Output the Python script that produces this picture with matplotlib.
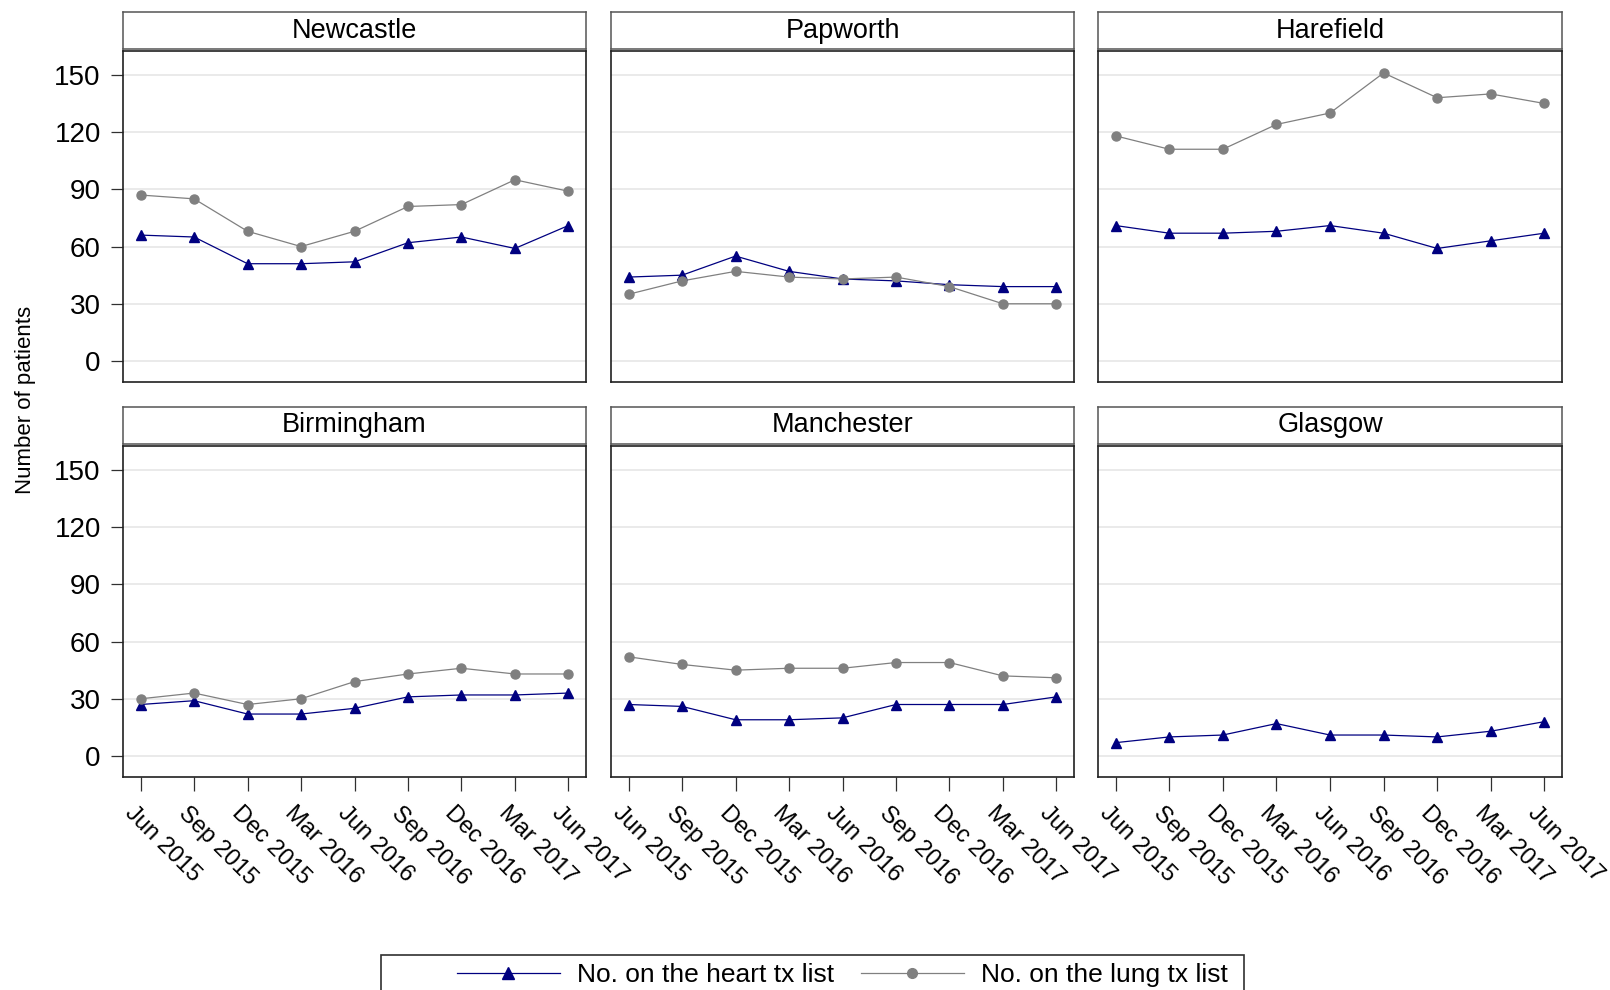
import matplotlib
matplotlib.use("Agg")
import matplotlib.pyplot as plt
from matplotlib.patches import Rectangle
from matplotlib.lines import Line2D
from matplotlib.transforms import ScaledTranslation

plt.rcParams['font.family'] = ['Liberation Sans', 'DejaVu Sans']

# Data
months = ['Jun 2015', 'Sep 2015', 'Dec 2015', 'Mar 2016', 'Jun 2016',
          'Sep 2016', 'Dec 2016', 'Mar 2017', 'Jun 2017']
centres = ['Newcastle', 'Papworth', 'Harefield', 'Birmingham', 'Manchester', 'Glasgow']

heart_newcastle = [66, 65, 51, 51, 52, 62, 65, 59, 71]
heart_papworth = [44, 45, 55, 47, 43, 42, 40, 39, 39]
heart_harefield = [71, 67, 67, 68, 71, 67, 59, 63, 67]
heart_birmingham = [27, 29, 22, 22, 25, 31, 32, 32, 33]
heart_manchester = [27, 26, 19, 19, 20, 27, 27, 27, 31]
heart_glasgow = [7, 10, 11, 17, 11, 11, 10, 13, 18]

lung_newcastle = [87, 85, 68, 60, 68, 81, 82, 95, 89]
lung_papworth = [35, 42, 47, 44, 43, 44, 39, 30, 30]
lung_harefield = [118, 111, 111, 124, 130, 151, 138, 140, 135]
lung_birmingham = [30, 33, 27, 30, 39, 43, 46, 43, 43]
lung_manchester = [52, 48, 45, 46, 46, 49, 49, 42, 41]
lung_glasgow = None  # no lung programme

heart = [heart_newcastle, heart_papworth, heart_harefield,
         heart_birmingham, heart_manchester, heart_glasgow]
lung = [lung_newcastle, lung_papworth, lung_harefield,
        lung_birmingham, lung_manchester, lung_glasgow]

yticks = [0, 30, 60, 90, 120, 150]

HEART_COL = '#000080'
LUNG_COL = '#808080'
FS = 19.5

W, H = 1610, 990
fig = plt.figure(figsize=(W / 100, H / 100), dpi=100)

# panel positions in pixels (left, right) and (top, bottom)
cols_px = [(123, 586), (611, 1074), (1098, 1562)]
rows_px = [(51, 382), (446, 777)]
strip_px = [(12, 49), (407, 444)]

x = list(range(len(months)))
shift = ScaledTranslation(-0.05, 0, fig.dpi_scale_trans)

for i, name in enumerate(centres):
    r, c = divmod(i, 3)
    x0, x1 = cols_px[c]
    y0, y1 = rows_px[r]
    ax = fig.add_axes([x0 / W, 1 - y1 / H, (x1 - x0) / W, (y1 - y0) / H])

    # strip label box
    s0, s1 = strip_px[r]
    sax = fig.add_axes([x0 / W, 1 - s1 / H, (x1 - x0) / W, (s1 - s0) / H])
    sax.set_xticks([])
    sax.set_yticks([])
    for sp in sax.spines.values():
        sp.set_color('#555555')
        sp.set_linewidth(1.1)
    sax.text(0.5, 0.5, name, ha='center', va='center', fontsize=FS,
             transform=sax.transAxes)

    ax.plot(x, heart[i], color=HEART_COL, lw=0.9, marker='^', ms=7.5,
            mfc=HEART_COL, mec=HEART_COL, zorder=3)
    if lung[i] is not None:
        ax.plot(x, lung[i], color=LUNG_COL, lw=0.9, marker='o', ms=6.5,
                mfc=LUNG_COL, mec=LUNG_COL, zorder=4)

    ax.set_xlim(-0.33, 8.33)
    ax.set_ylim(-11, 162.5)
    ax.set_yticks(yticks)
    ax.grid(axis='y', color='#e6e6e6', lw=1.2)
    ax.set_axisbelow(True)
    for sp in ax.spines.values():
        sp.set_color('#202020')
        sp.set_linewidth(1.2)

    ax.tick_params(axis='y', length=9, width=0.9, pad=7, labelsize=20,
                   color='#303030')
    ax.tick_params(axis='x', length=10, width=0.9, pad=8, labelsize=17,
                   color='#303030')
    ax.set_xticks(x)
    if c != 0:
        ax.tick_params(axis='y', left=False, labelleft=False)
    if r == 0:
        ax.tick_params(axis='x', bottom=False, labelbottom=False)
    else:
        ax.set_xticklabels(months, rotation=-45, ha='left', va='top',
                           rotation_mode='anchor')
        for lab in ax.get_xticklabels():
            lab.set_transform(lab.get_transform() + shift)

fig.text(26 / W, 1 - 400 / H, 'Number of patients', rotation=90,
         ha='center', va='center', fontsize=16)

# legend frame runs off the bottom edge as in the reference
fig.patches.append(Rectangle((381 / W, 1 - 1010 / H), (1244 - 381) / W, 55 / H,
                             transform=fig.transFigure, fill=False,
                             edgecolor='#303030', lw=1.2))
handles = [
    Line2D([], [], color=HEART_COL, lw=0.9, marker='^', ms=8, mfc=HEART_COL,
           mec=HEART_COL),
    Line2D([], [], color=LUNG_COL, lw=0.9, marker='o', ms=7, mfc=LUNG_COL,
           mec=LUNG_COL),
]
fig.legend(handles, ['No. on the heart tx list', 'No. on the lung tx list'],
           loc='center left', bbox_to_anchor=(457 / W, 1 - 975 / H), ncol=2,
           frameon=False, fontsize=19, borderpad=0, borderaxespad=0,
           handlelength=3.9, handletextpad=0.65, columnspacing=1.0)

fig.savefig('out.png', dpi=100)
